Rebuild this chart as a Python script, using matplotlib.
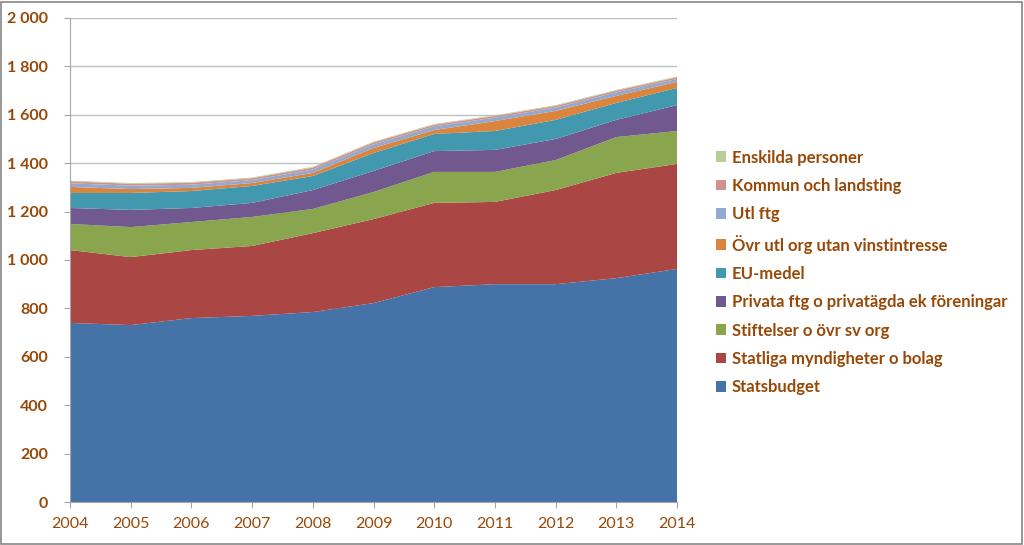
import matplotlib.pyplot as plt
from matplotlib.patches import Rectangle
from matplotlib.ticker import FuncFormatter, MultipleLocator

years = [2004, 2005, 2006, 2007, 2008, 2009, 2010, 2011, 2012, 2013, 2014]

statsbudget = [740, 731, 760, 769, 785, 822, 888, 900, 900, 925, 963]
statliga = [301, 281, 281, 289, 326, 347, 348, 340, 389, 435, 434]
stiftelser = [108, 124, 116, 120, 100, 112, 128, 124, 124, 148, 136]
privata = [66, 71, 58, 58, 78, 87, 86, 91, 87, 71, 107]
eu_medel = [62, 70, 70, 70, 58, 74, 71, 78, 79, 70, 71]
ovr_utl_org = [25, 16, 13, 12, 13, 21, 16, 41, 37, 29, 25]
utl_ftg = [15, 14, 13, 12, 14, 15, 15, 14, 14, 15, 12]
kommun = [8, 8, 8, 8, 8, 8, 7, 7, 7, 7, 7]
enskilda = [3, 3, 3, 3, 3, 3, 3, 3, 3, 3, 3]

labels = ["Statsbudget", "Statliga myndigheter o bolag", "Stiftelser o övr sv org",
          "Privata ftg o privatägda ek föreningar", "EU-medel",
          "Övr utl org utan vinstintresse", "Utl ftg", "Kommun och landsting",
          "Enskilda personer"]
colors = ["#4572A7", "#AA4643", "#89A54E", "#71588F", "#4198AF",
          "#DB843D", "#93A9CF", "#D19392", "#B9CD96"]

txt = "#984807"
plt.rcParams['font.family'] = ['Lato', 'DejaVu Sans']

fig = plt.figure(figsize=(10.24, 5.45), dpi=100)
ax = fig.add_axes([70 / 1024, 43 / 545, 607 / 1024, 484 / 545])

ax.stackplot(years, statsbudget, statliga, stiftelser, privata, eu_medel,
             ovr_utl_org, utl_ftg, kommun, enskilda,
             labels=labels, colors=colors, linewidth=0)

ax.set_xlim(2004, 2014)
ax.set_ylim(0, 2000)
ax.set_xticks(years)
ax.yaxis.set_major_locator(MultipleLocator(200))
ax.yaxis.set_major_formatter(FuncFormatter(lambda v, p: f"{int(v):,}".replace(",", " ")))
ax.grid(axis='y', color="#BFBFBF", linewidth=1)
ax.set_axisbelow(True)
for s in ["top", "right"]:
    ax.spines[s].set_visible(False)
for s in ["left", "bottom"]:
    ax.spines[s].set_color("#A6A6A6")
ax.tick_params(axis='both', direction='out', color="#A6A6A6", length=4)
ax.tick_params(axis='y', labelsize=11.5, labelcolor=txt, pad=12)
ax.tick_params(axis='x', labelsize=11.5, labelcolor=txt, pad=7)
for lbl in ax.get_yticklabels():
    lbl.set_fontweight('bold')

h, l = ax.get_legend_handles_labels()
leg = fig.legend(h[::-1], l[::-1], loc='center left', bbox_to_anchor=(0.699, 0.5),
                 frameon=False, fontsize=12, handlelength=0.6, handleheight=0.6,
                 handletextpad=0.35, labelspacing=0.74, borderpad=0, borderaxespad=0)
for t in leg.get_texts():
    t.set_color(txt)
    t.set_fontweight('bold')

fig.patches.append(Rectangle((0.001, 0.002), 0.997, 0.995, transform=fig.transFigure,
                             fill=False, edgecolor="#868686", linewidth=1.2))

fig.savefig("out.png", dpi=100)
